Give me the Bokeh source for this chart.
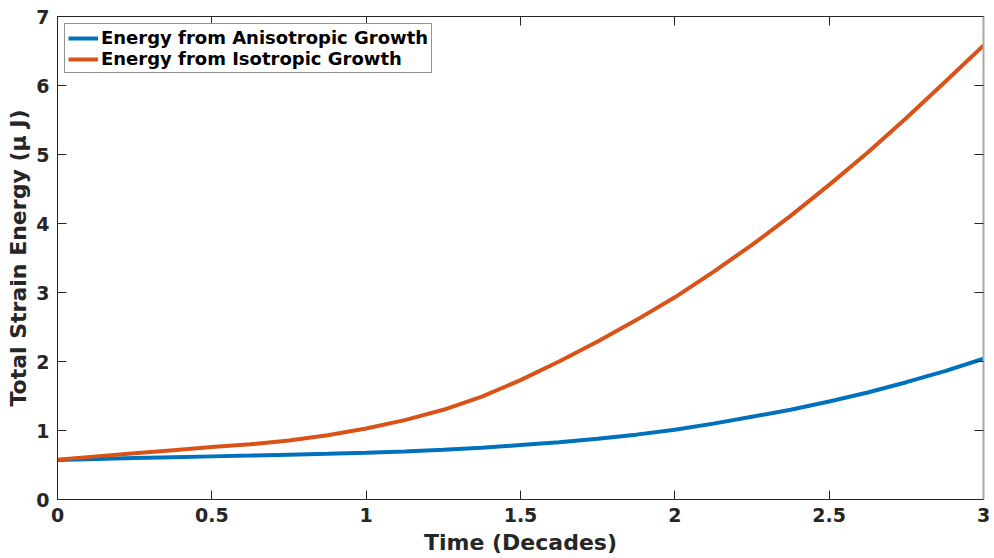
from bokeh.plotting import figure
from bokeh.models import LinearAxis, FixedTicker, Range1d, Legend, LegendItem
from bokeh.embed import file_html
from bokeh.resources import INLINE

time = [0.0, 0.125, 0.25, 0.375, 0.5, 0.625, 0.75, 0.875, 1.0, 1.125, 1.25, 1.375, 1.5,
        1.625, 1.75, 1.875, 2.0, 2.125, 2.25, 2.375, 2.5, 2.625, 2.75, 2.875, 3.0]
aniso = [0.572, 0.586, 0.60, 0.613, 0.625, 0.637, 0.65, 0.663, 0.678, 0.697, 0.72, 0.75, 0.79,
         0.83, 0.88, 0.94, 1.01, 1.10, 1.20, 1.30, 1.42, 1.55, 1.70, 1.86, 2.04]
iso = [0.578, 0.625, 0.67, 0.715, 0.76, 0.80, 0.855, 0.93, 1.03, 1.15, 1.30, 1.49, 1.73,
       2.00, 2.29, 2.60, 2.93, 3.30, 3.69, 4.11, 4.56, 5.03, 5.53, 6.05, 6.58]
x_ticks = [0, 0.5, 1, 1.5, 2, 2.5, 3]
x_tick_labels = ["0", "0.5", "1", "1.5", "2", "2.5", "3"]
y_ticks = [0, 1, 2, 3, 4, 5, 6, 7]
y_tick_labels = ["0", "1", "2", "3", "4", "5", "6", "7"]

FONT = "DejaVu Sans"
AX = "#262626"

p = figure(width=994, height=558, output_backend="svg", toolbar_location=None,
           x_range=Range1d(0, 3), y_range=Range1d(0, 7),
           min_border_left=57, min_border_right=11, min_border_top=16, min_border_bottom=59,
           x_axis_label="Time (Decades)", y_axis_label="Total Strain Energy (\u03bc J)")
p.grid.visible = False
p.outline_line_color = None
p.background_fill_color = "white"
p.border_fill_color = "white"

for ax, ticks, labels in ((p.xaxis[0], x_ticks, x_tick_labels), (p.yaxis[0], y_ticks, y_tick_labels)):
    ax.ticker = FixedTicker(ticks=ticks)
    ax.major_label_overrides = {t: l for t, l in zip(ticks, labels)}
    ax.major_tick_in = 9
    ax.major_tick_out = 0
    ax.minor_tick_in = 0
    ax.minor_tick_out = 0
    ax.axis_line_color = AX
    ax.major_tick_line_color = AX
    ax.major_label_text_font = FONT
    ax.major_label_text_font_style = "bold"
    ax.major_label_text_font_size = "19px"
    ax.major_label_text_color = AX
    ax.axis_label_text_font = FONT
    ax.axis_label_text_font_style = "bold"
    ax.axis_label_text_font_size = "22px"
    ax.axis_label_text_color = AX

p.xaxis[0].major_label_standoff = 8
p.xaxis[0].axis_label_standoff = 5
p.yaxis[0].major_label_standoff = 8
p.yaxis[0].axis_label_standoff = 2

top = LinearAxis(ticker=FixedTicker(ticks=x_ticks), major_label_text_font_size="1px",
                 major_label_text_color=None,
                 major_tick_in=9, major_tick_out=0, minor_tick_in=0, minor_tick_out=0,
                 axis_line_color=AX, major_tick_line_color=AX, major_label_standoff=0)
right = LinearAxis(ticker=FixedTicker(ticks=y_ticks), major_label_text_font_size="1px",
                   major_label_text_color=None,
                   major_tick_in=9, major_tick_out=0, minor_tick_in=0, minor_tick_out=0,
                   axis_line_color="#a8a8a8", axis_line_width=2,
                   major_tick_line_color=AX, major_label_standoff=0)
p.add_layout(top, "above")
p.add_layout(right, "right")

r1 = p.line(time, aniso, line_color="#0072BD", line_width=4)
r2 = p.line(time, iso, line_color="#D95319", line_width=4)

legend = Legend(items=[LegendItem(label="Energy from Anisotropic Growth", renderers=[r1]),
                       LegendItem(label="Energy from Isotropic Growth", renderers=[r2])],
                location="top_left", margin=7, padding=3, spacing=0,
                glyph_width=30, glyph_height=20, label_height=20, label_standoff=3,
                label_text_font=FONT, label_text_font_style="bold",
                label_text_font_size="18px", label_text_color="black",
                border_line_color=AX, border_line_width=1,
                background_fill_color="white", background_fill_alpha=1)
p.add_layout(legend)

open("out.html", "w").write(file_html(p, INLINE))
